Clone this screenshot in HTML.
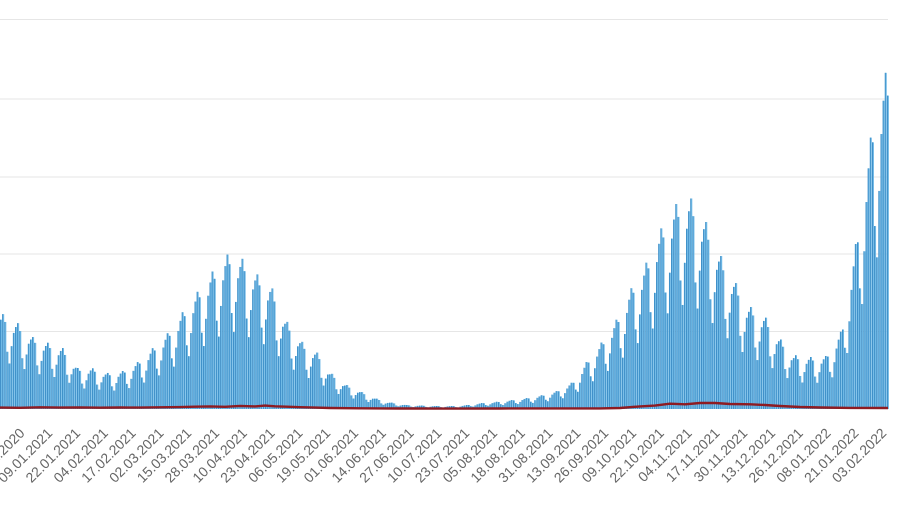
<!DOCTYPE html>
<html>
<head>
<meta charset="utf-8">
<style>
  html, body { margin: 0; padding: 0; background: #ffffff; }
  body { width: 900px; height: 505px; overflow: hidden; }
  svg { display: block; }
  .lbl { font-family: "Liberation Sans", Arial, sans-serif; font-size: 14px; fill: #666666; }
</style>
</head>
<body>
<svg id="chart" width="900" height="505" viewBox="0 0 900 505" xmlns="http://www.w3.org/2000/svg">
  <rect x="0" y="0" width="900" height="505" fill="#ffffff"/>
  <g fill="#e6e6e6">
    <rect x="0" y="19" width="888" height="1"/>
    <rect x="0" y="98.5" width="888" height="1"/>
    <rect x="0" y="176.5" width="888" height="1"/>
    <rect x="0" y="253.5" width="888" height="1"/>
    <rect x="0" y="331" width="888" height="1"/>
  </g>
  <g id="bars"></g>
  <path id="redline" fill="none" stroke="#8e1b22" stroke-width="2.4" stroke-linejoin="round"
    d="M0,407.6 L20,407.8 L40,407.3 L60,407.6 L80,407.4 L100,407.7 L120,407.5 L140,407.6 L160,407.3 L180,407.1 L195,406.7 L210,406.4 L225,406.8 L240,405.9 L255,406.4 L265,405.6 L275,406.3 L290,406.8 L300,407.2 L315,407.6 L330,408 L360,408.3 L400,408.5 L450,408.6 L500,408.5 L550,408.4 L600,408.4 L620,408 L640,406.4 L655,405.6 L670,403.7 L685,404.3 L700,403 L715,403 L730,404 L750,404.3 L765,405 L780,406 L800,407 L820,407.5 L850,407.9 L888,408"/>
  <g class="lbl" text-anchor="end">
    <text transform="translate(25.5,434) rotate(-45)">27.12.2020</text>
    <text transform="translate(53.3,434) rotate(-45)">09.01.2021</text>
    <text transform="translate(81.1,434) rotate(-45)">22.01.2021</text>
    <text transform="translate(108.9,434) rotate(-45)">04.02.2021</text>
    <text transform="translate(136.7,434) rotate(-45)">17.02.2021</text>
    <text transform="translate(164.5,434) rotate(-45)">02.03.2021</text>
    <text transform="translate(192.3,434) rotate(-45)">15.03.2021</text>
    <text transform="translate(220.1,434) rotate(-45)">28.03.2021</text>
    <text transform="translate(247.9,434) rotate(-45)">10.04.2021</text>
    <text transform="translate(275.7,434) rotate(-45)">23.04.2021</text>
    <text transform="translate(303.5,434) rotate(-45)">06.05.2021</text>
    <text transform="translate(331.3,434) rotate(-45)">19.05.2021</text>
    <text transform="translate(359.1,434) rotate(-45)">01.06.2021</text>
    <text transform="translate(386.9,434) rotate(-45)">14.06.2021</text>
    <text transform="translate(414.7,434) rotate(-45)">27.06.2021</text>
    <text transform="translate(442.5,434) rotate(-45)">10.07.2021</text>
    <text transform="translate(470.3,434) rotate(-45)">23.07.2021</text>
    <text transform="translate(498.1,434) rotate(-45)">05.08.2021</text>
    <text transform="translate(525.9,434) rotate(-45)">18.08.2021</text>
    <text transform="translate(553.7,434) rotate(-45)">31.08.2021</text>
    <text transform="translate(581.5,434) rotate(-45)">13.09.2021</text>
    <text transform="translate(609.3,434) rotate(-45)">26.09.2021</text>
    <text transform="translate(637.1,434) rotate(-45)">09.10.2021</text>
    <text transform="translate(664.9,434) rotate(-45)">22.10.2021</text>
    <text transform="translate(692.7,434) rotate(-45)">04.11.2021</text>
    <text transform="translate(720.5,434) rotate(-45)">17.11.2021</text>
    <text transform="translate(748.3,434) rotate(-45)">30.11.2021</text>
    <text transform="translate(776.1,434) rotate(-45)">13.12.2021</text>
    <text transform="translate(803.9,434) rotate(-45)">26.12.2021</text>
    <text transform="translate(831.7,434) rotate(-45)">08.01.2022</text>
    <text transform="translate(859.5,434) rotate(-45)">21.01.2022</text>
    <text transform="translate(887.3,434) rotate(-45)">03.02.2022</text>
  </g>
</svg>
<script>
(function(){
  var env = [[0,314],[3,314],[18,323],[33,337],[46,342],[63,348],[78,368],[92,368],[108,373],[123,371],[138,362],[153,348],[168,333],[185,309],[199,290],[213,271],[229,253],[243,259],[257,274],[271,285],[286,320],[304,344],[318,353],[330,372],[345,384],[362,392],[375,398],[388,402],[407,405],[437,406],[457,406],[467,405],[482,403],[495,402],[512,400],[527,398],[543,395],[557,391],[573,382],[588,360],[602,342],[617,319],[633,285],[645,266],[662,227],[677,203],[691,198],[705,219],[719,252],[734,279],[748,305],[765,316],[779,337],[794,355],[811,357],[826,356],[842,330],[857,237],[873,122],[886,72]];
  function envY(x){
    if (x <= env[0][0]) return env[0][1];
    for (var k=0;k<env.length-1;k++){
      var a=env[k], b=env[k+1];
      if (x>=a[0] && x<=b[0]){
        var t=(x-a[0])/(b[0]-a[0]);
        return a[1]+(b[1]-a[1])*t;
      }
    }
    return env[env.length-1][1];
  }
  var mult=[1.0,0.93,0.62,0.5,0.7,0.86,0.94];
  var base=409, w=2.137, n=416;
  var g=document.getElementById('bars');
  var html='';
  for (var i=0;i<n;i++){
    var x=i*w, cx=x+w/2;
    var d=((i-1)%7+7)%7;
    var h=(base-envY(cx))*mult[d];
    if (h<0.8) h=0.8;
    var y=base-h;
    html+='<rect x="'+(x+0.1).toFixed(2)+'" y="'+y.toFixed(2)+'" width="'+(w-0.2).toFixed(2)+'" height="'+h.toFixed(2)+'" fill="#6fb9e6"/>';
    html+='<rect x="'+(x+0.1).toFixed(2)+'" y="'+y.toFixed(2)+'" width="0.8" height="'+h.toFixed(2)+'" fill="#3487c2"/>';
  }
  g.innerHTML=html;
})();
</script>
</body>
</html>
